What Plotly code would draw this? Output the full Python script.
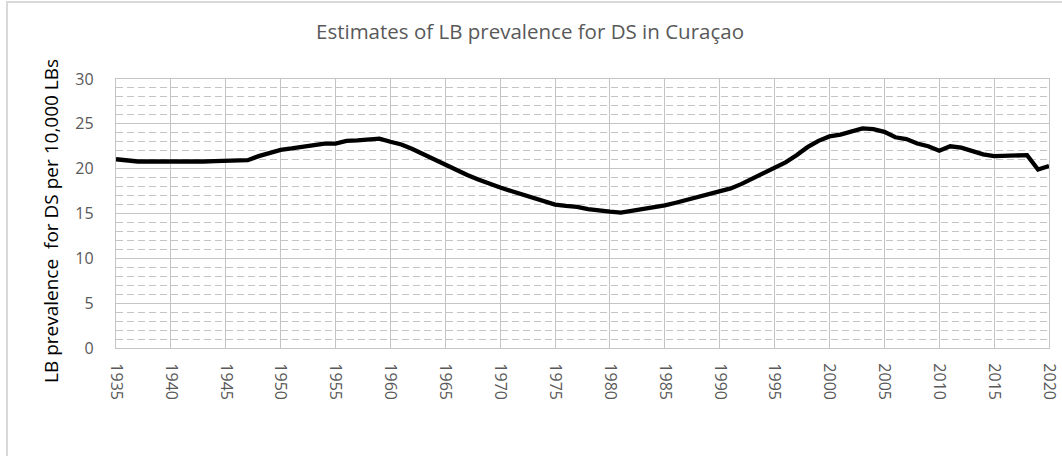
import plotly.graph_objects as go

years = list(range(1935, 2021))
prevalence = [
    21.05, 20.9, 20.8, 20.8, 20.8, 20.8, 20.75, 20.7, 20.8, 20.85,  # 1935-1944
    20.85, 20.9, 20.95, 21.4, 21.8, 22.1, 22.25, 22.45, 22.6, 22.8,  # 1945-1954
    22.8, 23.1, 23.15, 23.3, 23.35, 23.0, 22.7, 22.2, 21.6, 21.0,    # 1955-1964
    20.5, 19.9, 19.3, 18.8, 18.3, 17.9, 17.5, 17.1, 16.7, 16.3,      # 1965-1974
    16.0, 15.85, 15.75, 15.5, 15.3, 15.2, 15.1, 15.3, 15.5, 15.65,   # 1975-1984
    15.9, 16.2, 16.5, 16.9, 17.2, 17.5, 17.8, 18.3, 18.9, 19.4,      # 1985-1994
    20.0, 20.7, 21.5, 22.4, 23.1, 23.6, 23.8, 24.2, 24.5, 24.4,      # 1995-2004
    24.1, 23.5, 23.3, 22.8, 22.5, 22.0, 22.5, 22.35, 22.0, 21.6,     # 2005-2014
    21.4, 21.4, 21.4, 21.5, 19.9, 20.3,                              # 2015-2020
]
x_ticks = list(range(1935, 2021, 5))
y_ticks = [0, 5, 10, 15, 20, 25, 30]

title_text = "Estimates of LB prevalence for DS in Curaçao"
y_title = "LB prevalence  for DS per 10,000 LBs"

FONT = "Open Sans"
GRID = "#c4c4c4"

fig = go.Figure()
fig.add_trace(go.Scatter(
    x=years, y=prevalence, mode="lines",
    line=dict(color="#000000", width=4.3),
    showlegend=False, hoverinfo="x+y",
))

# plot area: x 116..1049, y 79..348 in a 1062x456 page
L, R, T, B = 116, 1049, 79, 348
W, H = 1062, 456
pw, ph = R - L, B - T

fig.update_layout(
    width=W, height=H,
    margin=dict(l=L, r=W - R, t=T, b=H - B, pad=0, autoexpand=False),
    paper_bgcolor="white", plot_bgcolor="white",
    font=dict(family=FONT, color="#595959", size=13),
    showlegend=False,
)

fig.update_xaxes(
    range=[1935, 2020], tickvals=x_ticks, ticktext=[str(v) for v in x_ticks],
    tickangle=90, ticks="outside", ticklen=11, tickcolor="rgba(0,0,0,0)",
    showgrid=True, gridcolor=GRID, gridwidth=1.3, automargin=False,
    showline=True, linecolor=GRID, linewidth=1.3, mirror=True,
    zeroline=False, tickfont=dict(family=FONT, size=16, color="#595959"),
)
fig.update_yaxes(
    range=[0, 30], tickvals=y_ticks, ticktext=[str(v) for v in y_ticks],
    ticks="outside", ticklen=18, tickcolor="rgba(0,0,0,0)",
    showgrid=True, gridcolor=GRID, gridwidth=1.3, automargin=False,
    minor=dict(dtick=1, showgrid=True, gridcolor=GRID, griddash="7px,4px", gridwidth=1),
    showline=True, linecolor=GRID, linewidth=1.3, mirror=True,
    zeroline=False, tickfont=dict(family=FONT, size=16, color="#595959"),
)

def px_x(p):
    return (p - L) / pw

def px_y(p):
    return (B - p) / ph

fig.add_annotation(
    text=title_text, xref="paper", yref="paper",
    x=px_x(530), y=px_y(31), xanchor="center", yanchor="middle",
    showarrow=False, font=dict(family=FONT, size=20.5, color="#595959"),
)
fig.add_annotation(
    text=y_title, xref="paper", yref="paper",
    x=px_x(51), y=px_y(221), xanchor="center", yanchor="middle",
    textangle=-90, showarrow=False,
    font=dict(family=FONT, size=19, color="#000000"),
)

# chart-area border (only left/top edges are visible in the reference)
fig.add_shape(
    type="rect", xref="paper", yref="paper",
    x0=px_x(7), x1=px_x(1080), y0=px_y(470), y1=px_y(2),
    line=dict(color="#d9d9d9", width=2), layer="below",
)

fig.write_html(
    "out.html",
    config={"displayModeBar": False},
    post_script="document.body.style.margin='0px';document.body.style.overflow='hidden';",
)
